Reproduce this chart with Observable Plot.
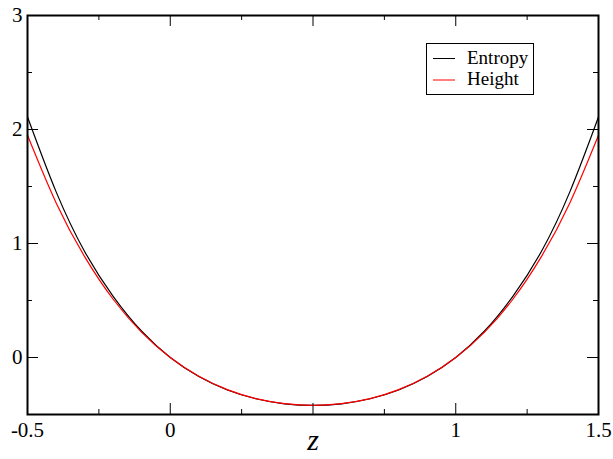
<!DOCTYPE html>
<html><head><meta charset="utf-8">
<script src="https://cdn.jsdelivr.net/npm/d3@7"></script>
<script src="https://cdn.jsdelivr.net/npm/@observablehq/plot@0.6"></script>
<style>
html,body{margin:0;padding:0;background:#fff;}
#wrap{position:relative;width:613px;height:459px;font-family:'Liberation Serif','DejaVu Serif',serif;}
#wrap svg text{font-family:'Liberation Serif','DejaVu Serif',serif;}
#legend{position:absolute;left:0;top:0;pointer-events:none;}
</style></head>
<body><div id="wrap"></div>
<script>
// data
const zValues = [-0.5,-0.4,-0.3,-0.2,-0.1,0,0.1,0.2,0.3,0.4,0.5,0.6,0.7,0.8,0.9,1.0,1.1,1.2,1.3,1.4,1.5];
const entropy = [2.11,1.455,0.93,0.537,0.230,0,-0.167,-0.285,-0.362,-0.406,-0.42,-0.406,-0.362,-0.285,-0.167,0,0.230,0.537,0.93,1.455,2.11];
const heightVals = [1.95,1.358,0.885,0.511,0.221,0,-0.164,-0.282,-0.361,-0.405,-0.42,-0.405,-0.361,-0.282,-0.164,0,0.221,0.511,0.885,1.358,1.95];
const seriesNames = ["Entropy","Height"];
const seriesColors = ["#000000","#ff0000"];
const xMajor = [-0.5,0,0.5,1,1.5];
const xMinor = [-0.25,0.25,0.75,1.25];
const yMajor = [0,1,2,3];
const yMinor = [-0.5,0.5,1.5,2.5];
const xTickValues = [-0.5,0,1,1.5];
const xTickLabels = ["-0.5","0","1","1.5"];
const yTickValues = [0,1,2,3];
const yTickLabels = ["0","1","2","3"];
const xLabel = "z";

const W = 613, H = 459;
const mL = 27, mR = 15, mT = 15, mB = 45;
const fw = W - mL - mR, fh = H - mT - mB;
const majorLen = 11, minorLen = 5;
const font = "'Liberation Serif','DejaVu Serif',serif";

const plot = Plot.plot({
  width: W, height: H,
  marginLeft: mL, marginRight: mR, marginTop: mT, marginBottom: mB,
  style: {fontFamily: font, background: "#fff", color: "#000"},
  x: {domain: [-0.5, 1.5], axis: null},
  y: {domain: [-0.5, 3], axis: null},
  marks: [
    Plot.line(entropy, {x: (d, i) => zValues[i], y: d => d, stroke: seriesColors[0], strokeWidth: 1.2, curve: "natural"}),
    Plot.line(heightVals, {x: (d, i) => zValues[i], y: d => d, stroke: seriesColors[1], strokeWidth: 1.2, curve: "natural"}),
    Plot.tickX(xMajor, {x: d => d, insetTop: fh - majorLen, stroke: "#000"}),
    Plot.tickX(xMinor, {x: d => d, insetTop: fh - minorLen, stroke: "#000"}),
    Plot.tickX(xMajor, {x: d => d, insetBottom: fh - majorLen, stroke: "#000"}),
    Plot.tickX(xMinor, {x: d => d, insetBottom: fh - minorLen, stroke: "#000"}),
    Plot.tickY(yMajor, {y: d => d, insetRight: fw - majorLen, stroke: "#000"}),
    Plot.tickY(yMinor, {y: d => d, insetRight: fw - minorLen, stroke: "#000"}),
    Plot.tickY(yMajor, {y: d => d, insetLeft: fw - majorLen, stroke: "#000"}),
    Plot.tickY(yMinor, {y: d => d, insetLeft: fw - minorLen, stroke: "#000"}),
    Plot.frame({stroke: "#000", strokeWidth: 2}),
    Plot.text(xTickValues, {x: d => d, text: (d, i) => xTickLabels[i], frameAnchor: "bottom", lineAnchor: "top", dy: 8, fontSize: 21, fill: "#000"}),
    Plot.text(yTickValues, {y: d => d, text: (d, i) => yTickLabels[i], frameAnchor: "left", textAnchor: "end", dx: -5, fontSize: 21, fill: "#000"}),
    Plot.text([xLabel], {text: d => d, frameAnchor: "bottom", dy: 35, fontSize: 30, fontStyle: "italic", fill: "#000"})
  ]
});
const wrap = document.getElementById("wrap");
wrap.appendChild(plot);

const ns = "http://www.w3.org/2000/svg";
const lg = document.createElementNS(ns, "svg");
lg.setAttribute("id", "legend");
lg.setAttribute("width", W); lg.setAttribute("height", H);
const box = document.createElementNS(ns, "rect");
box.setAttribute("x", 426.5); box.setAttribute("y", 43.5);
box.setAttribute("width", 107); box.setAttribute("height", 51);
box.setAttribute("fill", "#fff"); box.setAttribute("stroke", "#000"); box.setAttribute("stroke-width", 1);
lg.appendChild(box);
seriesNames.forEach((name, i) => {
  const yLine = 58.5 + i * 21.5;
  const ln = document.createElementNS(ns, "line");
  ln.setAttribute("x1", 433); ln.setAttribute("x2", 455);
  ln.setAttribute("y1", yLine); ln.setAttribute("y2", yLine);
  ln.setAttribute("stroke", seriesColors[i]); ln.setAttribute("stroke-width", 1);
  lg.appendChild(ln);
  const t = document.createElementNS(ns, "text");
  t.setAttribute("x", 467); t.setAttribute("y", 63.5 + i * 21.5);
  t.setAttribute("style", "font-family:" + font + ";font-size:19px");
  t.setAttribute("fill", "#000");
  t.textContent = name;
  lg.appendChild(t);
});
wrap.appendChild(lg);
</script>
</body></html>
